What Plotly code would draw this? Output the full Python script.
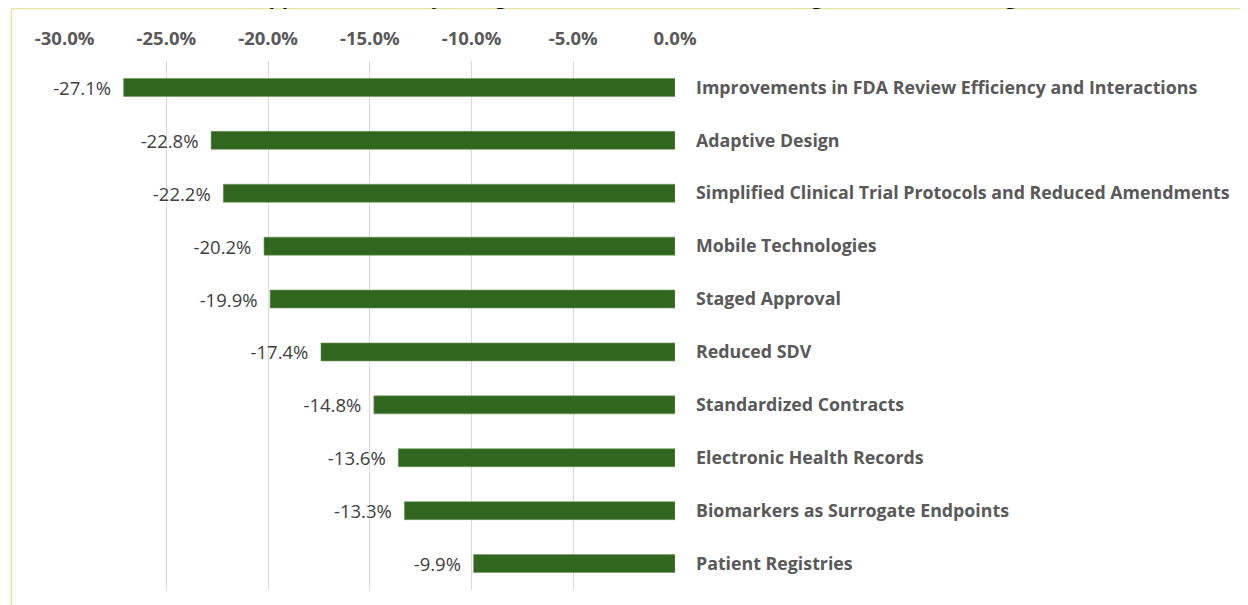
import plotly.graph_objects as go

categories = [
    "Improvements in FDA Review Efficiency and Interactions",
    "Adaptive Design",
    "Simplified Clinical Trial Protocols and Reduced Amendments",
    "Mobile Technologies",
    "Staged Approval",
    "Reduced SDV",
    "Standardized Contracts",
    "Electronic Health Records",
    "Biomarkers as Surrogate Endpoints",
    "Patient Registries",
]
values = [-27.1, -22.8, -22.2, -20.2, -19.9, -17.4, -14.8, -13.6, -13.3, -9.9]
tick_vals = [-30, -25, -20, -15, -10, -5, 0]
tick_text = ["-30.0%", "-25.0%", "-20.0%", "-15.0%", "-10.0%", "-5.0%", "0.0%"]
title_text = "Approval Time) by Using Individual Alternative Strategies (Across All Stages)"

# figure is placed at page offset (8, 8) by the default body margin
W, H = 1240, 597
ML, MR, MT, MB = 56, 573, 53, 15
PW, PH = W - ML - MR, H - MT - MB
OFF = 8

def px_x(p):  # page pixel -> paper x
    return (p - OFF - ML) / PW

def px_y(p):  # page pixel -> paper y
    return (H - MB - (p - OFF)) / PH

FONT = "Open Sans"
fig = go.Figure(
    go.Bar(
        x=values,
        y=categories,
        orientation="h",
        marker=dict(color="#31661f", line=dict(color="#6f9a60", width=0.6)),
        width=0.34,
        text=[f"{v:.1f}%\u00a0\u00a0" for v in values],
        textposition="outside",
        constraintext="none",
        cliponaxis=False,
        textfont=dict(family=FONT, size=18.5, color="#404040"),
        hoverinfo="skip",
    )
)

fig.update_layout(
    width=W,
    height=H,
    margin=dict(l=ML, r=MR, t=MT, b=MB),
    paper_bgcolor="white",
    plot_bgcolor="white",
    showlegend=False,
    xaxis=dict(
        side="top",
        range=[-30.03, 0],
        tickvals=tick_vals,
        ticktext=tick_text,
        tickfont=dict(family=FONT, size=18.5, color="#595959", weight="bold"),
        showgrid=True,
        gridcolor="#d9d9d9",
        gridwidth=1,
        zeroline=False,
        showline=False,
        ticks="",
        ticklabelstandoff=11,
        fixedrange=True,
    ),
    yaxis=dict(
        side="right",
        categoryorder="array",
        categoryarray=categories,
        autorange="reversed",
        tickfont=dict(family=FONT, size=17.8, color="#595959", weight="bold"),
        showgrid=False,
        zeroline=False,
        showline=False,
        ticks="",
        ticklabelstandoff=20,
        fixedrange=True,
    ),
    bargap=0.66,
)

fig.add_annotation(
    text=title_text,
    xref="paper", yref="paper",
    x=px_x(650), y=px_y(12),
    xanchor="center", yanchor="bottom",
    showarrow=False,
    font=dict(family=FONT, size=21, color="#000000", weight="bold"),
)

frame_color = "#e4e4a0"
fig.add_shape(type="line", xref="paper", yref="paper",
              x0=px_x(11), x1=px_x(1260), y0=px_y(8.6), y1=px_y(8.6),
              line=dict(color=frame_color, width=1.5))
fig.add_shape(type="line", xref="paper", yref="paper",
              x0=px_x(11.5), x1=px_x(11.5), y0=px_y(8.6), y1=px_y(615),
              line=dict(color=frame_color, width=1.5))

fig.write_html("out.html")
